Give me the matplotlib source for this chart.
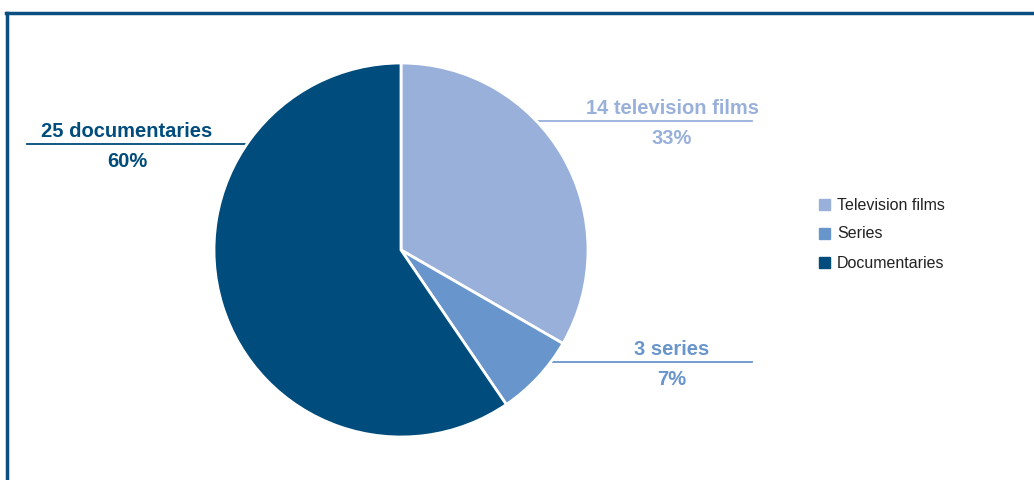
import matplotlib.pyplot as plt
from matplotlib.lines import Line2D
from matplotlib.patches import Rectangle

plt.rcParams['font.family'] = ['Liberation Sans', 'DejaVu Sans']

categories = ['Television films', 'Series', 'Documentaries']
counts = [14, 3, 25]
label_names = ['television films', 'series', 'documentaries']
colors = ['#99b0db', '#6895cc', '#004c7c']

W, H = 1034, 481
fig = plt.figure(figsize=(W / 100, H / 100), dpi=100)
ax = fig.add_axes([0, 0, 1, 1])

# pie in pixel coords (y flipped: y = H - ypix)
cx, cy, r = 401, H - 251, 187
wedges, _ = ax.pie(counts, colors=colors, startangle=90, counterclock=False,
                   center=(cx, cy), radius=r, frame=True,
                   wedgeprops=dict(edgecolor='white', linewidth=2))
ax.set_xlim(0, W)
ax.set_ylim(0, H)
ax.set_aspect('equal')
ax.axis('off')

total = sum(counts)
# label positions: (line x0, line x1, line y, text x)
label_pos = [(537, 752, 122, 672), (550, 752, 363, 672), (27, 250, 145, 127)]
for (x0, x1, ly, tx), n, name, c in zip(label_pos, counts, label_names, colors):
    ax.plot([x0, x1], [H - ly, H - ly], color=c, lw=1.3, zorder=0)
    ax.text(tx, H - ly + 4, f'{n} {name}', color=c, fontsize=14.5, fontweight='bold',
            ha='center', va='bottom')
    ax.text(tx, H - ly - 7, f'{round(n / total * 100)}%', color=c, fontsize=14.5,
            fontweight='bold', ha='center', va='top')

# legend
for i, (cat, c) in enumerate(zip(categories, colors)):
    y = H - (205 + i * 29)
    ax.add_patch(Rectangle((819, y - 5.5), 11, 11, color=c))
    ax.text(837, y, cat, fontsize=11.5, color='#222222', va='center', ha='left')

# frame border (top and left)
border = '#0a4f80'
fig.add_artist(Line2D([7 / W, 7 / W], [0, 1 - 14 / H], color=border, lw=2.5,
                      transform=fig.transFigure))
fig.add_artist(Line2D([6 / W, 1], [1 - 14 / H, 1 - 14 / H], color=border, lw=2.5,
                      transform=fig.transFigure))

fig.savefig('out.png', dpi=100)
